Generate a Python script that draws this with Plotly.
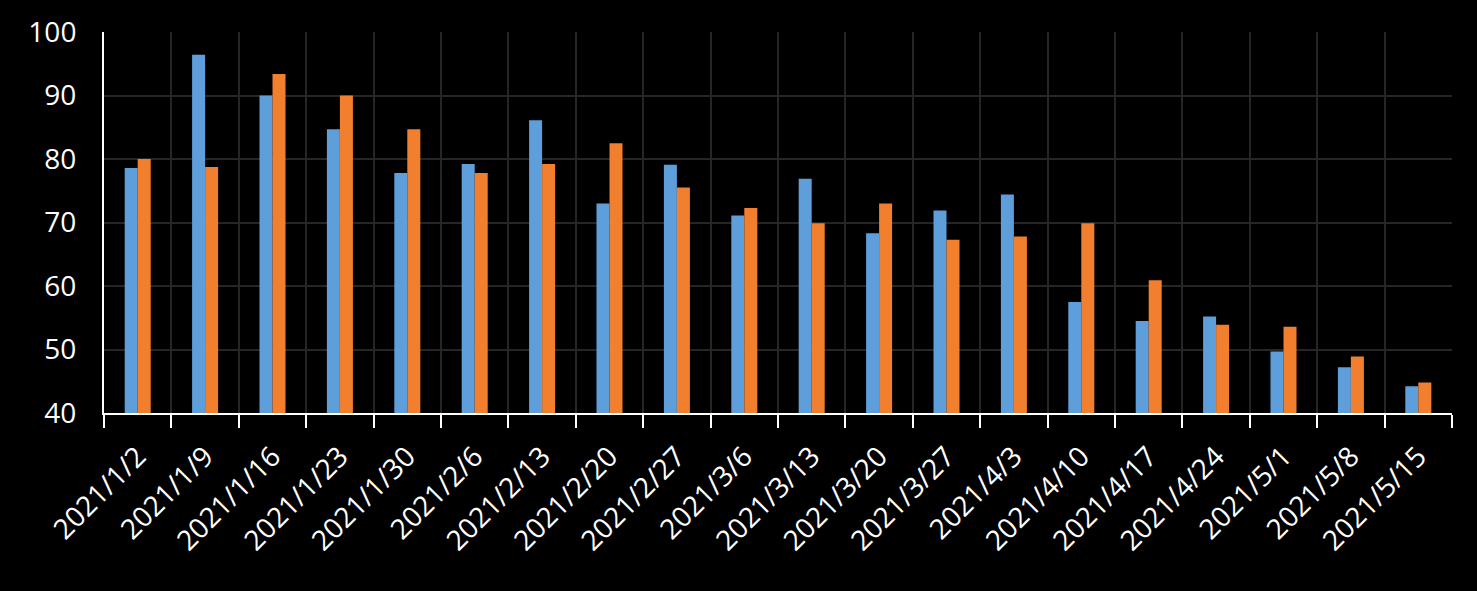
import plotly.graph_objects as go

categories = ["2021/1/2", "2021/1/9", "2021/1/16", "2021/1/23", "2021/1/30",
              "2021/2/6", "2021/2/13", "2021/2/20", "2021/2/27", "2021/3/6",
              "2021/3/13", "2021/3/20", "2021/3/27", "2021/4/3", "2021/4/10",
              "2021/4/17", "2021/4/24", "2021/5/1", "2021/5/8", "2021/5/15"]
series_blue = [78.6, 96.4, 90.0, 84.7, 77.8, 79.2, 86.1, 73.0, 79.1, 71.1,
               76.9, 68.3, 71.9, 74.4, 57.5, 54.5, 55.2, 49.7, 47.2, 44.2]
series_orange = [80.0, 78.75, 93.4, 90.0, 84.7, 77.8, 79.2, 82.5, 75.5, 72.3,
                 69.9, 73.0, 67.3, 67.8, 69.9, 60.9, 53.9, 53.6, 48.9, 44.8]
y_ticks = [40, 50, 60, 70, 80, 90, 100]

font_family = "Open Sans, Noto Sans, DejaVu Sans, sans-serif"

fig = go.Figure()
fig.add_trace(go.Bar(x=categories, y=series_blue, name="Series 1",
                     marker=dict(color="#5e9edb", line=dict(width=0))))
fig.add_trace(go.Bar(x=categories, y=series_orange, name="Series 2",
                     marker=dict(color="#f17f2e", line=dict(width=0))))

fig.update_layout(
    width=1477, height=591,
    paper_bgcolor="#000000", plot_bgcolor="#000000",
    margin=dict(l=104, r=25, t=27, b=178),
    barmode="group", bargap=0.614, bargroupgap=0,
    showlegend=False,
    font=dict(family=font_family, color="#ffffff", size=26),
)
fig.update_xaxes(
    type="category", tickson="boundaries",
    showline=True, linecolor="#ffffff", linewidth=2,
    ticks="outside", ticklen=13, tickwidth=2, tickcolor="#ffffff",
    showgrid=True, gridcolor="#262626", gridwidth=2,
    tickangle=-45, tickfont=dict(size=28, color="#ffffff"),
    ticklabelstandoff=14,
)
fig.update_yaxes(
    range=[40, 100], tickvals=y_ticks,
    showline=True, linecolor="#ffffff", linewidth=2,
    showgrid=True, gridcolor="#262626", gridwidth=2,
    ticks="", ticklabelstandoff=20,
    tickfont=dict(size=28, color="#ffffff"), zeroline=False,
)

fig.write_html(
    "out.html",
    config={"displayModeBar": False},
    post_script="document.body.style.margin='0';document.body.style.overflow='hidden';document.body.style.background='#000';",
)
